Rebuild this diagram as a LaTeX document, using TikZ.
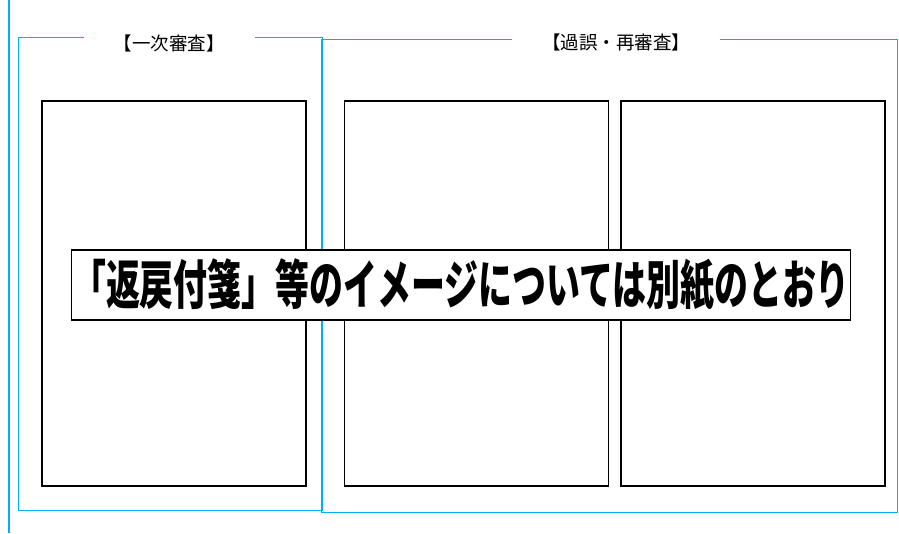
\documentclass[tikz,border=0pt]{standalone}
\usepackage{fontspec}
\usepackage{graphicx}
\usepackage{xcolor}
\usetikzlibrary{positioning}
\newfontfamily\jp{Noto Sans CJK JP}
\definecolor{frame-blue}{RGB}{0,176,240}

\begin{document}
\begin{tikzpicture}[x=1pt, y=-1pt]
				\tikzset{group/.style={draw=frame-blue, line width=1.2pt, inner sep=0pt, anchor=north west}}
				\tikzset{sheet/.style={draw=black, line width=1.6pt, inner sep=0pt, anchor=north west, minimum width=264pt, minimum height=385pt}}
				\tikzset{title/.style={fill=white, inner ysep=2pt, inner xsep=30pt, font=\jp\fontsize{18.5}{18.5}\selectfont}}
				\useasboundingbox (0,0) rectangle (899,533);
				\draw[frame-blue, line width=1.2pt] (9,0) coordinate (rail top) -- (9,533) coordinate (rail bottom);
				\node[group, minimum width=304pt, minimum height=473pt] at (18,37) (first) {};
				\node[group, minimum width=576pt, minimum height=473pt] at (321,39) (second) {};
				\node[title] at (169,43) (first title) {【一次審査】};
				\node[title] at (616,42) (second title) {【過誤・再審査】};
				\node[sheet] at (41,100) (sheet a) {};
				\node[sheet, right=37pt of sheet a.north east, anchor=north west] (sheet b) {};
				\node[sheet, right=11pt of sheet b.north east, anchor=north west] (sheet c) {};
				\node[draw=black, line width=1.6pt, fill=white, minimum width=779pt, minimum height=70pt, inner sep=0pt]
				at (461,285) (notice) {\jp\bfseries\fontsize{53}{53}\selectfont\scalebox{0.64}[1]{「返戻付箋」等のイメージについては別紙のとおり}};
			\end{tikzpicture}
\end{document}
